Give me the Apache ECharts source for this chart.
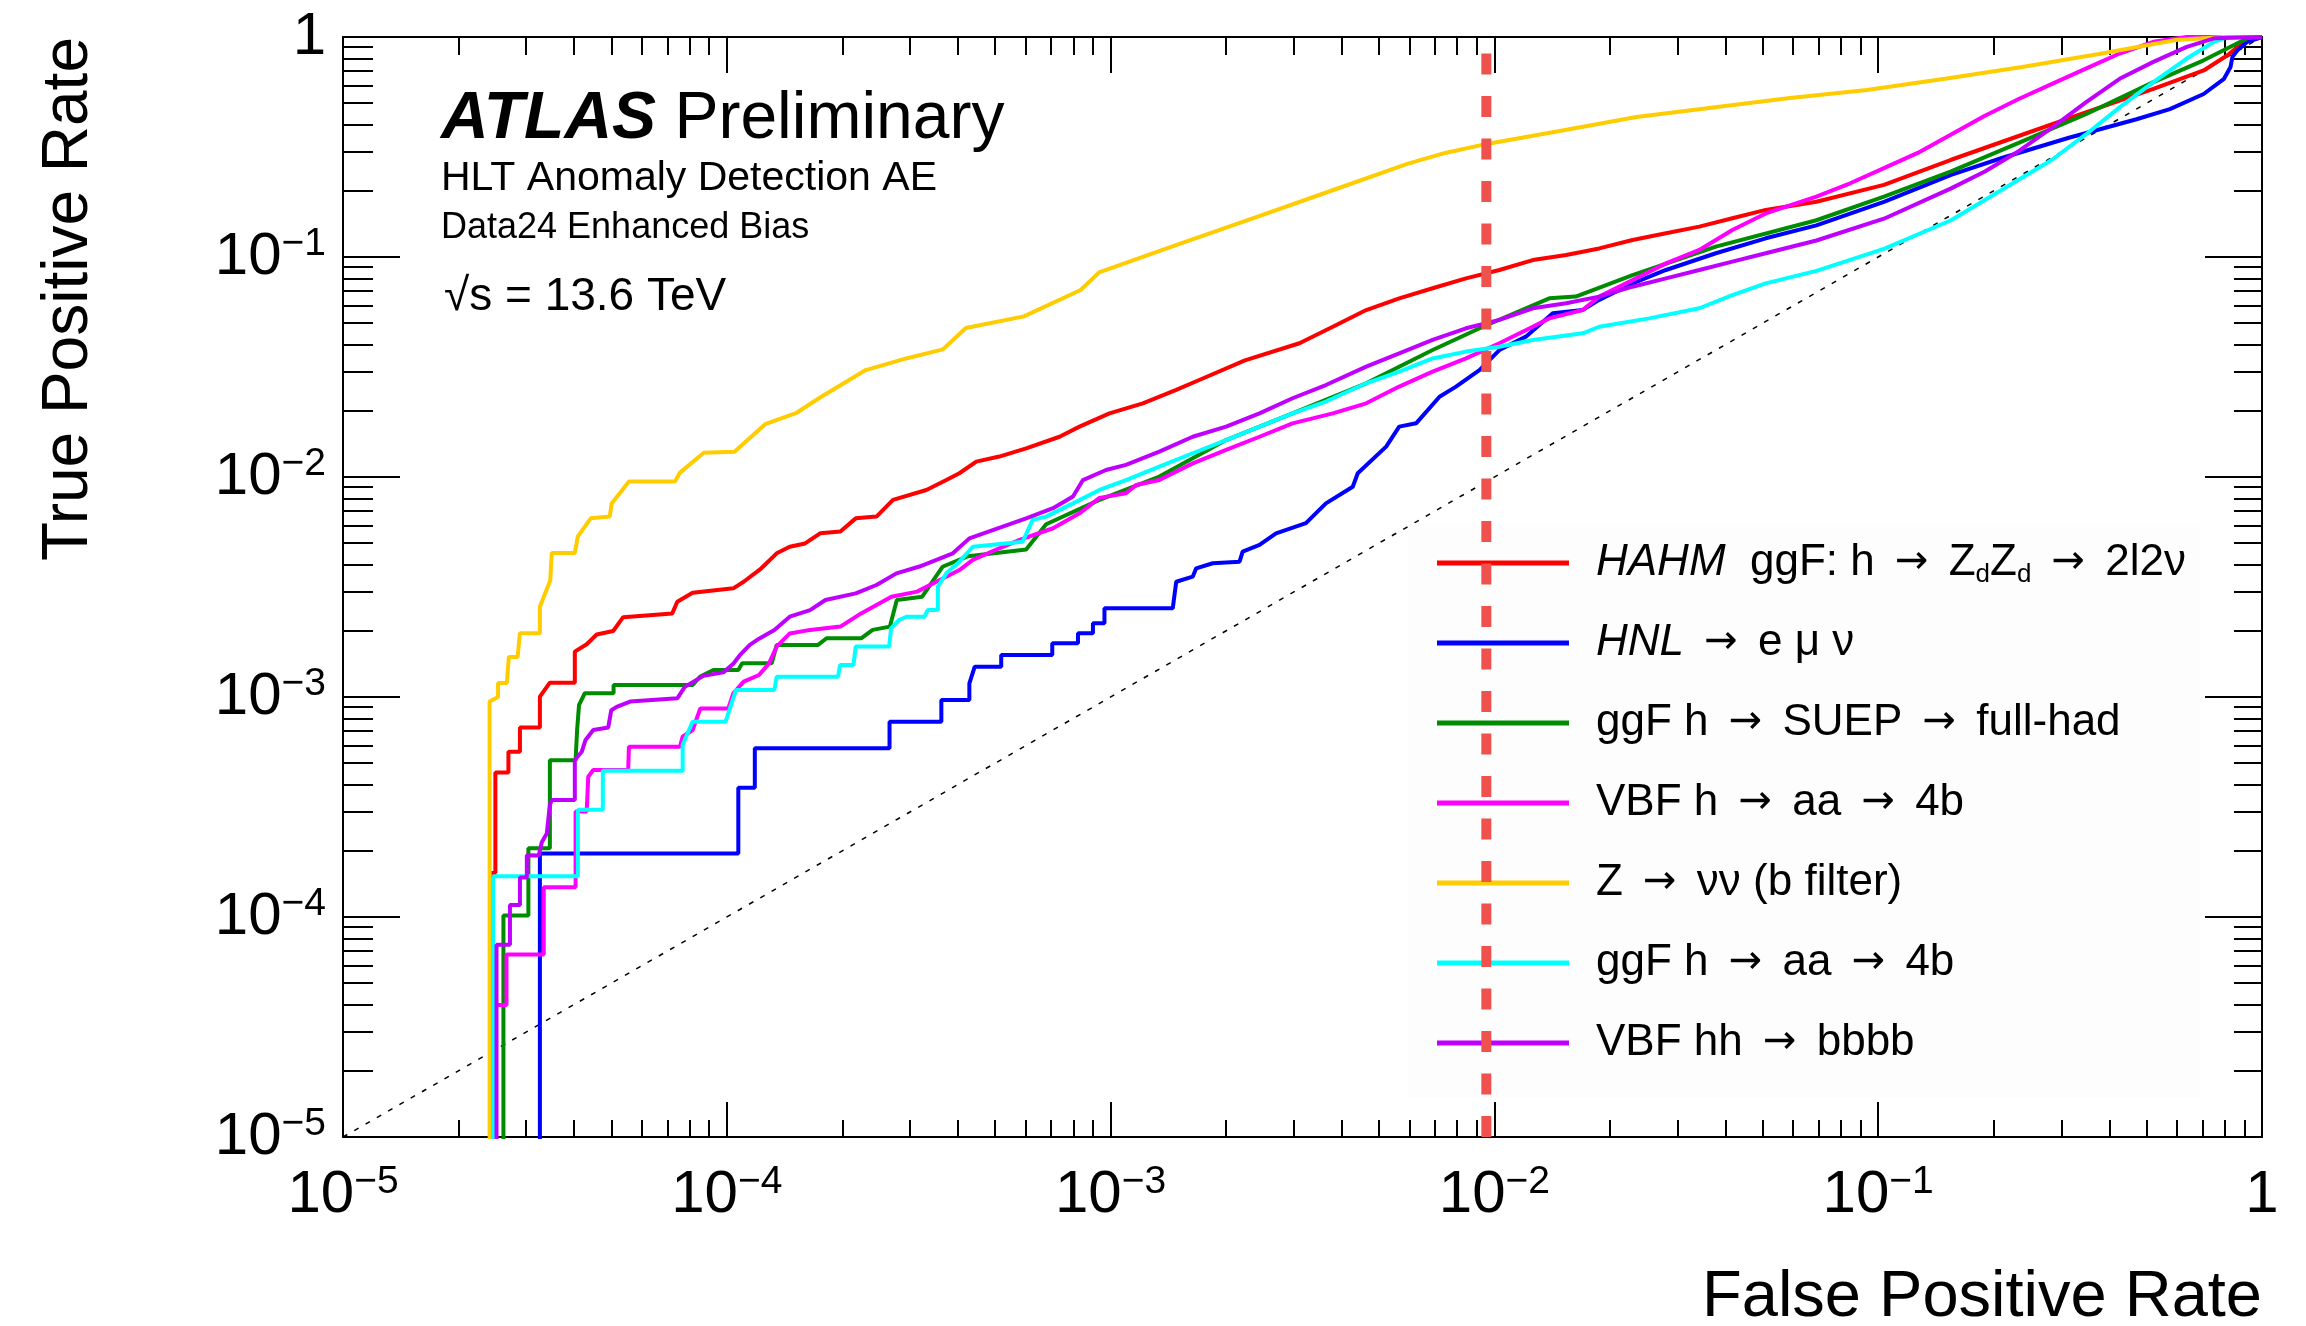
<!DOCTYPE html>
<html>
<head>
<meta charset="utf-8">
<script src="https://cdn.jsdelivr.net/npm/echarts@6/dist/echarts.min.js"></script>
<style>
html, body { margin: 0; padding: 0; background: #fff; }
#chart { width: 2306px; height: 1326px; }
</style>
</head>
<body>
<div id="chart"></div>
<script>
// ROC curves; every point is [log10(FPR), log10(TPR)]
var hahm = [[-4.615,-6],[-4.615,-3.8],[-4.603,-3.8],[-4.603,-3.343],[-4.569,-3.343],[-4.569,-3.249],[-4.539,-3.249],[-4.539,-3.139],[-4.487,-3.139],[-4.487,-2.998],[-4.461,-2.935],[-4.396,-2.935],[-4.396,-2.794],[-4.365,-2.76],[-4.339,-2.716],[-4.296,-2.70],[-4.27,-2.637],[-4.142,-2.62],[-4.129,-2.567],[-4.089,-2.526],[-3.983,-2.506],[-3.956,-2.476],[-3.91,-2.415],[-3.87,-2.347],[-3.836,-2.317],[-3.796,-2.302],[-3.757,-2.256],[-3.704,-2.248],[-3.664,-2.188],[-3.61,-2.18],[-3.567,-2.104],[-3.48,-2.059],[-3.428,-2.014],[-3.394,-1.983],[-3.35,-1.93],[-3.29,-1.907],[-3.22,-1.87],[-3.133,-1.817],[-3.081,-1.771],[-3.003,-1.711],[-2.916,-1.665],[-2.829,-1.604],[-2.769,-1.559],[-2.65,-1.47],[-2.508,-1.392],[-2.421,-1.317],[-2.334,-1.241],[-2.248,-1.188],[-2.161,-1.142],[-2.074,-1.097],[-1.987,-1.059],[-1.9,-1.014],[-1.813,-0.991],[-1.727,-0.961],[-1.64,-0.923],[-1.553,-0.892],[-1.466,-0.862],[-1.38,-0.824],[-1.293,-0.786],[-1.161,-0.749],[-0.985,-0.672],[-0.81,-0.558],[-0.634,-0.45],[-0.459,-0.343],[-0.283,-0.236],[-0.152,-0.152],[-0.09,-0.083],[-0.047,-0.022],[0,0]];

var hnl = [[-4.487,-6],[-4.487,-3.711],[-3.97,-3.711],[-3.97,-3.413],[-3.927,-3.413],[-3.927,-3.233],[-3.576,-3.233],[-3.576,-3.112],[-3.441,-3.112],[-3.441,-3.014],[-3.368,-3.014],[-3.368,-2.938],[-3.354,-2.862],[-3.285,-2.862],[-3.285,-2.809],[-3.152,-2.809],[-3.152,-2.756],[-3.085,-2.756],[-3.085,-2.71],[-3.046,-2.71],[-3.046,-2.665],[-3.016,-2.665],[-3.016,-2.597],[-2.838,-2.597],[-2.829,-2.476],[-2.786,-2.453],[-2.777,-2.415],[-2.734,-2.392],[-2.664,-2.385],[-2.656,-2.339],[-2.612,-2.309],[-2.569,-2.256],[-2.491,-2.21],[-2.439,-2.12],[-2.369,-2.044],[-2.356,-1.983],[-2.282,-1.862],[-2.248,-1.771],[-2.204,-1.756],[-2.143,-1.635],[-2.1,-1.589],[-2.039,-1.514],[-1.987,-1.423],[-1.918,-1.362],[-1.848,-1.256],[-1.77,-1.241],[-1.727,-1.195],[-1.64,-1.12],[-1.553,-1.059],[-1.423,-0.983],[-1.293,-0.915],[-1.161,-0.856],[-0.985,-0.749],[-0.81,-0.627],[-0.678,-0.55],[-0.503,-0.458],[-0.327,-0.374],[-0.24,-0.328],[-0.152,-0.259],[-0.099,-0.19],[-0.082,-0.136],[-0.077,-0.09],[-0.064,-0.06],[-0.038,-0.022],[0,0]];

var suep = [[-4.582,-6],[-4.582,-3.993],[-4.517,-3.993],[-4.517,-3.688],[-4.461,-3.688],[-4.461,-3.288],[-4.394,-3.288],[-4.39,-3.15],[-4.385,-3.036],[-4.37,-2.983],[-4.295,-2.983],[-4.295,-2.945],[-4.089,-2.945],[-4.07,-2.908],[-4.035,-2.877],[-3.97,-2.877],[-3.96,-2.847],[-3.883,-2.847],[-3.87,-2.764],[-3.763,-2.764],[-3.74,-2.733],[-3.65,-2.733],[-3.62,-2.695],[-3.575,-2.68],[-3.557,-2.559],[-3.491,-2.544],[-3.438,-2.408],[-3.371,-2.36],[-3.22,-2.33],[-3.168,-2.215],[-3.029,-2.104],[-2.873,-1.998],[-2.699,-1.832],[-2.526,-1.711],[-2.334,-1.574],[-2.161,-1.423],[-2.03,-1.317],[-1.857,-1.188],[-1.788,-1.18],[-1.64,-1.082],[-1.423,-0.953],[-1.161,-0.833],[-0.985,-0.726],[-0.81,-0.611],[-0.634,-0.481],[-0.459,-0.351],[-0.283,-0.205],[-0.152,-0.106],[-0.038,-0.006],[0,0]];

var vbfAa = [[-4.607,-6],[-4.607,-4.40],[-4.574,-4.40],[-4.574,-4.17],[-4.477,-4.17],[-4.477,-3.865],[-4.394,-3.865],[-4.394,-3.52],[-4.365,-3.52],[-4.361,-3.362],[-4.348,-3.332],[-4.257,-3.332],[-4.255,-3.226],[-4.122,-3.226],[-4.115,-3.18],[-4.089,-3.15],[-4.069,-3.052],[-3.996,-3.052],[-3.983,-2.983],[-3.956,-2.93],[-3.916,-2.9],[-3.89,-2.847],[-3.87,-2.771],[-3.836,-2.711],[-3.783,-2.695],[-3.704,-2.68],[-3.65,-2.62],[-3.571,-2.544],[-3.504,-2.521],[-3.454,-2.476],[-3.394,-2.423],[-3.359,-2.377],[-3.29,-2.324],[-3.237,-2.286],[-3.15,-2.233],[-3.081,-2.165],[-3.029,-2.095],[-2.96,-2.074],[-2.933,-2.036],[-2.873,-2.014],[-2.786,-1.938],[-2.699,-1.877],[-2.612,-1.817],[-2.526,-1.756],[-2.421,-1.711],[-2.334,-1.665],[-2.248,-1.589],[-2.161,-1.521],[-2.074,-1.461],[-1.987,-1.392],[-1.9,-1.317],[-1.857,-1.279],[-1.77,-1.241],[-1.727,-1.18],[-1.64,-1.105],[-1.553,-1.029],[-1.466,-0.968],[-1.38,-0.877],[-1.293,-0.802],[-1.161,-0.726],[-1.073,-0.665],[-0.985,-0.596],[-0.897,-0.527],[-0.81,-0.443],[-0.722,-0.358],[-0.634,-0.282],[-0.547,-0.213],[-0.459,-0.144],[-0.371,-0.075],[-0.283,-0.022],[-0.196,0],[0,0]];

var zNuNu = [[-4.618,-6],[-4.618,-3.02],[-4.596,-3.0],[-4.596,-2.936],[-4.573,-2.936],[-4.568,-2.818],[-4.545,-2.818],[-4.539,-2.71],[-4.487,-2.71],[-4.487,-2.59],[-4.46,-2.47],[-4.456,-2.345],[-4.396,-2.345],[-4.388,-2.27],[-4.354,-2.187],[-4.305,-2.18],[-4.3,-2.12],[-4.255,-2.02],[-4.135,-2.02],[-4.122,-1.98],[-4.06,-1.89],[-3.98,-1.885],[-3.9,-1.76],[-3.82,-1.71],[-3.758,-1.64],[-3.638,-1.514],[-3.53,-1.46],[-3.437,-1.42],[-3.377,-1.323],[-3.226,-1.27],[-3.078,-1.15],[-3.03,-1.07],[-2.828,-0.945],[-2.628,-0.823],[-2.427,-0.70],[-2.227,-0.577],[-2.128,-0.527],[-2.02,-0.486],[-1.83,-0.427],[-1.63,-0.364],[-1.43,-0.32],[-1.23,-0.277],[-1.03,-0.241],[-0.826,-0.19],[-0.625,-0.136],[-0.425,-0.077],[-0.224,-0.014],[-0.1,0],[0,0]];

var ggfAa = [[-4.609,-6],[-4.609,-3.815],[-4.388,-3.815],[-4.388,-3.512],[-4.323,-3.512],[-4.323,-3.335],[-4.115,-3.335],[-4.115,-3.218],[-4.089,-3.112],[-4.003,-3.112],[-3.976,-2.968],[-3.876,-2.968],[-3.87,-2.908],[-3.71,-2.908],[-3.705,-2.855],[-3.67,-2.855],[-3.664,-2.771],[-3.577,-2.771],[-3.572,-2.688],[-3.551,-2.65],[-3.532,-2.635],[-3.485,-2.635],[-3.476,-2.604],[-3.45,-2.604],[-3.45,-2.498],[-3.428,-2.438],[-3.394,-2.385],[-3.359,-2.317],[-3.229,-2.294],[-3.203,-2.195],[-3.168,-2.18],[-3.098,-2.12],[-3.029,-2.059],[-2.96,-2.014],[-2.873,-1.953],[-2.786,-1.892],[-2.699,-1.832],[-2.612,-1.771],[-2.526,-1.711],[-2.439,-1.657],[-2.334,-1.574],[-2.248,-1.521],[-2.161,-1.461],[-2.074,-1.43],[-1.987,-1.408],[-1.9,-1.377],[-1.77,-1.347],[-1.727,-1.317],[-1.597,-1.279],[-1.466,-1.233],[-1.38,-1.173],[-1.293,-1.12],[-1.161,-1.063],[-0.985,-0.963],[-0.81,-0.833],[-0.722,-0.741],[-0.634,-0.649],[-0.547,-0.558],[-0.459,-0.443],[-0.371,-0.32],[-0.283,-0.205],[-0.196,-0.098],[-0.125,-0.022],[-0.09,0],[0,0]];

var vbfHh = [[-4.600,-6],[-4.600,-4.126],[-4.565,-4.126],[-4.565,-3.946],[-4.539,-3.946],[-4.539,-3.821],[-4.521,-3.821],[-4.521,-3.719],[-4.49,-3.72],[-4.482,-3.66],[-4.469,-3.62],[-4.461,-3.49],[-4.456,-3.468],[-4.396,-3.468],[-4.396,-3.286],[-4.378,-3.249],[-4.368,-3.195],[-4.348,-3.15],[-4.309,-3.139],[-4.301,-3.06],[-4.287,-3.045],[-4.252,-3.021],[-4.129,-3.006],[-4.109,-2.953],[-4.061,-2.904],[-4.009,-2.888],[-3.983,-2.849],[-3.966,-2.81],[-3.94,-2.763],[-3.916,-2.735],[-3.876,-2.695],[-3.836,-2.635],[-3.783,-2.605],[-3.743,-2.559],[-3.664,-2.529],[-3.61,-2.491],[-3.558,-2.438],[-3.498,-2.407],[-3.411,-2.347],[-3.368,-2.279],[-3.307,-2.241],[-3.22,-2.188],[-3.15,-2.142],[-3.098,-2.089],[-3.072,-2.014],[-3.012,-1.968],[-2.96,-1.945],[-2.873,-1.885],[-2.786,-1.817],[-2.699,-1.771],[-2.612,-1.711],[-2.526,-1.642],[-2.439,-1.582],[-2.334,-1.498],[-2.248,-1.438],[-2.161,-1.377],[-2.074,-1.324],[-1.987,-1.286],[-1.9,-1.233],[-1.813,-1.21],[-1.727,-1.18],[-1.64,-1.135],[-1.553,-1.097],[-1.466,-1.059],[-1.38,-1.021],[-1.293,-0.983],[-1.161,-0.925],[-0.985,-0.826],[-0.81,-0.688],[-0.722,-0.611],[-0.634,-0.519],[-0.547,-0.412],[-0.459,-0.297],[-0.371,-0.19],[-0.283,-0.113],[-0.196,-0.045],[-0.125,-0.006],[0,0]];

var randomGuess = [[-5,-5],[0,0]];
var workingPointFpr = -2.021;

var names = ['hahm', 'hnl', 'suep', 'vbfAa', 'zNuNu', 'ggfAa', 'vbfHh'];
var curves = [hahm, hnl, suep, vbfAa, zNuNu, ggfAa, vbfHh];
var colors = ['#ff0000', '#0000ff', '#008c00', '#ff00ff', '#ffcc00', '#00ffff', '#c000ff'];
var labels = [
  '{it|HAHM}  ggF: h {ar|\u2192} Z{sub|d}Z{sub|d} {ar|\u2192} 2l2\u03bd',
  '{it|HNL} {ar|\u2192} e \u03bc \u03bd',
  'ggF h {ar|\u2192} SUEP {ar|\u2192} full-had',
  'VBF h {ar|\u2192} aa {ar|\u2192} 4b',
  'Z {ar|\u2192} \u03bd\u03bd (b filter)',
  'ggF h {ar|\u2192} aa {ar|\u2192} 4b',
  'VBF hh {ar|\u2192} bbbb'
];

var decades = [-5, -4, -3, -2, -1, 0];
var mantissas = [2, 3, 4, 5, 6, 7, 8, 9];

var FONT = "'Liberation Sans', Arial, sans-serif";

var minorTicks = [];
decades.slice(0, -1).forEach(function (d) {
  mantissas.forEach(function (m) { minorTicks.push(d + Math.log10(m)); });
});

function decadeLabel(v) {
  if (v === 0) return '{b|1}';
  return '{b|10}{s|\u2212' + (-v) + '}';
}

var labelRich = {
  b: { fontFamily: FONT, fontSize: 60, lineHeight: 64, color: '#000' },
  s: { fontFamily: FONT, fontSize: 39, lineHeight: 38, verticalAlign: 'top', color: '#000' }
};

function axis(pos, ticks, len, showLine, labelMargin) {
  return {
    type: 'value', min: -5, max: 0, position: pos,
    axisLine: { show: showLine, onZero: false, lineStyle: { color: '#000', width: 2 } },
    axisTick: { show: true, inside: true, length: len, customValues: ticks, lineStyle: { color: '#000', width: 2 } },
    axisLabel: labelMargin == null ? { show: false } : {
      show: true, customValues: decades, formatter: decadeLabel, rich: labelRich, margin: labelMargin
    },
    splitLine: { show: false }
  };
}

var myChart = echarts.init(document.getElementById('chart'));

var series = [{
  name: 'diag', type: 'line', data: randomGuess, symbol: 'none', silent: true,
  lineStyle: { color: '#000', width: 1.5, type: [5, 8] }, z: 1
}];
for (var i = 0; i < curves.length; i++) {
  series.push({
    name: names[i], type: 'line', data: curves[i], symbol: 'none',
    itemStyle: { color: colors[i] },
    lineStyle: { color: colors[i], width: 4 },
    z: 2
  });
}
series.push({
  name: 'wp', type: 'line', symbol: 'none', silent: true,
  data: [[workingPointFpr, -5], [workingPointFpr, 0]],
  lineStyle: { color: '#ef524c', width: 10, type: [21, 21.5], cap: 'butt' },
  z: 6
});

var option = {
  animation: false,
  backgroundColor: '#fff',
  grid: { left: 343, right: 44, top: 37, bottom: 189 },
  xAxis: [
    axis('bottom', decades, 35, true, 26),
    axis('bottom', minorTicks, 17, false),
    axis('top', decades, 36, true),
    axis('top', minorTicks, 18, false)
  ],
  yAxis: [
    axis('left', decades, 57, true, 17),
    axis('left', minorTicks, 30, false),
    axis('right', decades, 57, true),
    axis('right', minorTicks, 28, false)
  ],
  legend: {
    orient: 'vertical', left: 1408, top: 523,
    padding: [15, 14, 30, 29], backgroundColor: '#fdfdfd',
    itemWidth: 132, itemHeight: 5, itemGap: 30, icon: 'rect',
    selectedMode: false,
    data: names,
    formatter: function (name) { return labels[names.indexOf(name)]; },
    textStyle: {
      fontFamily: FONT, fontSize: 44, lineHeight: 50, color: '#000', padding: [0, 0, 0, 22],
      rich: {
        it: { fontFamily: FONT, fontSize: 44, lineHeight: 50, fontStyle: 'italic', color: '#000' },
        ar: { fontFamily: "'DejaVu Sans', sans-serif", fontSize: 40, lineHeight: 50, color: '#000', padding: [0, 8, 0, 8] },
        sub: { fontFamily: FONT, fontSize: 26, lineHeight: 18, verticalAlign: 'bottom', color: '#000' }
      }
    }
  },
  graphic: [
    { type: 'text', x: 441, y: 120, style: {
        text: '{a|ATLAS} {p|Preliminary}', fontSize: 66, fontFamily: FONT, fill: '#000', verticalAlign: 'middle',
        rich: {
          a: { fontSize: 66, fontFamily: FONT, fontWeight: 'bold', fontStyle: 'italic' },
          p: { fontSize: 66, fontFamily: FONT }
        } } },
    { type: 'text', x: 441, y: 179, style: { text: 'HLT Anomaly Detection AE', fontSize: 41, fontFamily: FONT, fill: '#000', verticalAlign: 'middle' } },
    { type: 'text', x: 441, y: 228, style: { text: 'Data24 Enhanced Bias', fontSize: 36, fontFamily: FONT, fill: '#000', verticalAlign: 'middle' } },
    { type: 'text', x: 444, y: 297, style: { text: '\u221As = 13.6 TeV', fontSize: 46, fontFamily: FONT, fill: '#000', verticalAlign: 'middle' } },
    { type: 'text', x: 69, y: 37, rotation: Math.PI / 2, style: { text: 'True Positive Rate', fontSize: 64, fontFamily: FONT, fill: '#000', align: 'right', verticalAlign: 'middle' } },
    { type: 'text', x: 2262, y: 1298, style: { text: 'False Positive Rate', fontSize: 65, fontFamily: FONT, fill: '#000', align: 'right', verticalAlign: 'middle' } }
  ],
  series: series
};

myChart.setOption(option);
</script>
</body>
</html>
